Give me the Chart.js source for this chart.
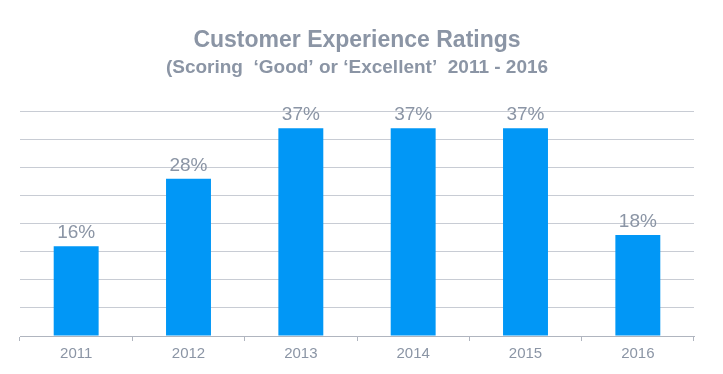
<!DOCTYPE html>
<html>
<head>
<meta charset="utf-8">
<script src="https://cdn.jsdelivr.net/npm/chart.js@4/dist/chart.umd.min.js"></script>
<style>
  html, body { margin: 0; padding: 0; background: #fff; }
  #wrap { width: 723px; height: 374px; }
</style>
</head>
<body>
<div id="wrap"><canvas id="myChart"></canvas></div>
<script>
const years = ['2011', '2012', '2013', '2014', '2015', '2016'];
const ratings = [16, 28, 37, 37, 37, 18];

const textGrey = '#8b95a5';

// labels above each bar
const valueLabels = {
  id: 'valueLabels',
  afterDatasetsDraw(chart) {
    const ctx = chart.ctx;
    const meta = chart.getDatasetMeta(0);
    ctx.save();
    ctx.font = '19px "Liberation Sans", Arial, sans-serif';
    ctx.fillStyle = textGrey;
    ctx.textAlign = 'center';
    ctx.textBaseline = 'alphabetic';
    meta.data.forEach((bar, i) => {
      ctx.fillText(ratings[i] + '%', bar.x, bar.y - 8);
    });
    ctx.restore();
  }
};

const data = {
  labels: years,
  datasets: [{
    label: 'Rating',
    data: ratings,
    backgroundColor: '#0197f6',
    borderWidth: 0,
    categoryPercentage: 0.4,
    barPercentage: 1
  }]
};

const config = {
  type: 'bar',
  data,
  options: {
    responsive: true,
    maintainAspectRatio: false,
    animation: false,
    layout: { padding: { top: 10, left: 20, right: 29, bottom: 7 } },
    plugins: {
      legend: { display: false },
      tooltip: { enabled: false },
      title: {
        display: true,
        text: 'Customer Experience Ratings',
        color: textGrey,
        font: { family: '"Liberation Sans", Arial, sans-serif', size: 23, weight: 'bold' },
        padding: { top: 17, bottom: 1 }
      },
      subtitle: {
        display: true,
        text: '(Scoring  \u2018Good\u2019 or \u2018Excellent\u2019  2011 - 2016',
        color: textGrey,
        font: { family: '"Liberation Sans", Arial, sans-serif', size: 19, weight: 'bold' },
        padding: { top: 1, bottom: 32 }
      }
    },
    scales: {
      x: {
        grid: {
          offset: true,
          drawOnChartArea: false,
          drawTicks: true,
          tickLength: 5,
          color: '#b0b5bf'
        },
        border: { color: '#b0b5bf' },
        ticks: {
          color: textGrey,
          font: { family: '"Liberation Sans", Arial, sans-serif', size: 15 },
          padding: 4
        }
      },
      y: {
        min: 0,
        max: 40,
        ticks: { display: false, stepSize: 5 },
        grid: { color: '#c8ccd4', drawTicks: false },
        border: { display: false }
      }
    }
  },
  plugins: [valueLabels]
};

var myChart = new Chart(document.getElementById('myChart'), config);
</script>
</body>
</html>
